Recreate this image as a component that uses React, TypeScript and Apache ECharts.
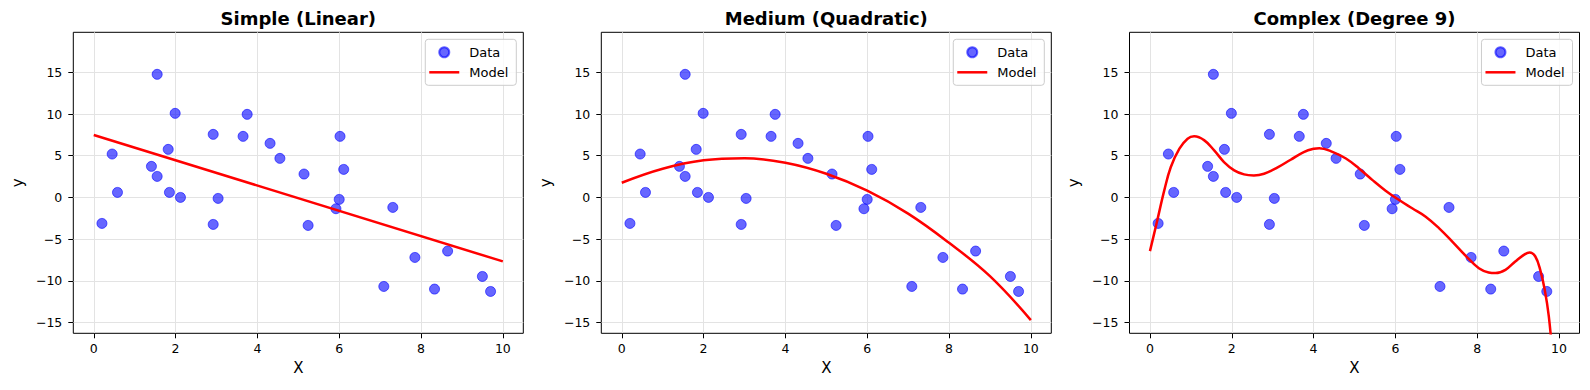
import React, { useEffect, useRef } from "react";
import * as echarts from "echarts";

const FONT = "DejaVu Sans";

const panelTitles = ["Simple (Linear)", "Medium (Quadratic)", "Complex (Degree 9)"];

// observed data points (same in every panel)
const dataX = [0.20, 0.45, 0.58, 1.41, 1.55, 1.55, 1.82, 1.85, 1.99, 2.12, 2.92, 2.92, 3.04, 3.65, 3.75, 4.31, 4.55, 5.14, 5.24, 5.92, 6.00, 6.02, 6.11, 7.09, 7.31, 7.85, 8.33, 8.65, 9.50, 9.70];
const dataY = [-3.12, 5.2, 0.6, 3.72, 14.76, 2.52, 5.76, 0.6, 10.08, 0.0, 7.56, -3.24, -0.12, 7.32, 9.96, 6.48, 4.68, 2.8, -3.36, -1.36, -0.24, 7.32, 3.36, -10.68, -1.2, -7.2, -11.0, -6.44, -9.48, -11.28];

// model curves
const linX = [0, 10];
const linY = [7.48, -7.68];

const quadX = [0, 1, 2, 3, 4, 5, 6, 7, 8, 9, 10];
const quadY = [1.76, 3.44, 4.45, 4.70, 4.15, 2.83, 0.80, -1.95, -5.45, -9.45, -14.72];

const polyX = [0, 0.16, 0.35, 0.51, 0.72, 0.92, 1.08, 1.33, 1.57, 1.81, 2.06, 2.30, 2.54, 2.79, 3.11, 3.44, 3.76, 4.01, 4.14, 4.46, 4.79, 5.11, 5.44, 5.76, 6.09, 6.41, 6.74, 7.07, 7.39, 7.72, 8.04, 8.28, 8.45, 8.69, 8.93, 9.14, 9.28, 9.42, 9.54, 9.65, 9.75, 9.85];
const polyY = [-6.44, -3.16, 0.84, 3.64, 5.84, 7.04, 7.32, 6.84, 5.64, 4.24, 3.24, 2.76, 2.64, 2.84, 3.56, 4.52, 5.44, 5.84, 5.9, 5.46, 4.66, 3.47, 2.07, 0.80, -0.32, -1.31, -2.31, -3.71, -5.30, -7.01, -8.49, -9.0, -9.08, -8.69, -7.69, -6.89, -6.61, -7.09, -8.69, -11.08, -14.26, -19.5];

const xTicks = [0, 2, 4, 6, 8, 10];
const yTicks = [-15, -10, -5, 0, 5, 10, 15];

const modelX = [linX, quadX, polyX];
const modelY = [linY, quadY, polyY];

const gridLefts = [73.3, 601.3, 1129.5];
const GRID_TOP = 32.3;
const GRID_W = 450;
const GRID_H = 301;

const fmt = (v: number) => String(v).replace("-", "\u2212");

function buildOption() {
  const grids = gridLefts.map((l) => ({
    left: l,
    top: GRID_TOP,
    width: GRID_W,
    height: GRID_H,
    show: true,
    borderColor: "#000",
    borderWidth: 1,
    backgroundColor: "transparent",
    containLabel: false,
  }));

  const xAxes = gridLefts.map((_, i) => ({
    gridIndex: i,
    type: "value",
    min: -0.5,
    max: 10.5,
    minInterval: 2,
    maxInterval: 2,
    name: "X",
    nameLocation: "middle",
    nameGap: 27,
    nameTextStyle: { fontFamily: FONT, fontSize: 15, color: "#000" },
    axisLine: { show: false, onZero: false },
    axisTick: { show: true, length: 5, customValues: xTicks, lineStyle: { color: "#000", width: 1 } },
    axisLabel: { customValues: xTicks, margin: 9, fontFamily: FONT, fontSize: 12.5, color: "#000", formatter: fmt },
    splitLine: { show: true, lineStyle: { color: "#e3e3e3", width: 1 } },
  }));

  const yAxes = gridLefts.map((_, i) => ({
    gridIndex: i,
    type: "value",
    min: -16.3,
    max: 19.8,
    minInterval: 5,
    maxInterval: 5,
    name: "y",
    nameLocation: "middle",
    nameGap: 48,
    nameTextStyle: { fontFamily: FONT, fontSize: 15, color: "#000" },
    axisLine: { show: false, onZero: false },
    axisTick: { show: true, length: 5, customValues: yTicks, lineStyle: { color: "#000", width: 1 } },
    axisLabel: { customValues: yTicks, margin: 11, fontFamily: FONT, fontSize: 12.5, color: "#000", formatter: fmt },
    splitLine: { show: true, lineStyle: { color: "#e3e3e3", width: 1 } },
  }));

  const series: any[] = [];
  gridLefts.forEach((_, i) => {
    series.push({
      type: "scatter",
      name: "Data",
      xAxisIndex: i,
      yAxisIndex: i,
      data: dataX.map((x, k) => [x, dataY[k]]),
      symbol: "circle",
      symbolSize: 10,
      itemStyle: { color: "rgba(0,0,255,0.6)", borderColor: "rgba(0,0,255,0.6)", borderWidth: 1, opacity: 1 },
      z: 2,
    });
    series.push({
      type: "line",
      name: "Model",
      xAxisIndex: i,
      yAxisIndex: i,
      data: modelX[i].map((x, k) => [x, modelY[i][k]]),
      symbol: "none",
      showSymbol: false,
      smooth: i === 0 ? false : 0.4,
      clip: true,
      lineStyle: { color: "#ff0000", width: 2.5 },
      itemStyle: { color: "#ff0000" },
      z: 3,
    });
  });

  const legends = gridLefts.map((l) => ({
    orient: "vertical",
    right: 1590 - (l + GRID_W - 7),
    top: 39.3,
    data: [
      { name: "Data", icon: "circle" },
      { name: "Model", icon: "path://M0,0H30V2.5H0Z" },
    ],
    symbolKeepAspect: true,
    itemWidth: 30,
    itemHeight: 10,
    itemGap: 6,
    padding: [6, 8, 6, 4],
    backgroundColor: "rgba(255,255,255,0.8)",
    borderColor: "#cccccc",
    borderWidth: 1,
    borderRadius: 3,
    textStyle: { fontFamily: FONT, fontSize: 13, color: "#000", lineHeight: 14, padding: [0, 0, 0, 5] },
  }));

  const titles = gridLefts.map((l, i) => ({
    type: "text",
    x: l + GRID_W / 2,
    y: 18,
    style: {
      text: panelTitles[i],
      font: `bold 18px "${FONT}"`,
      fontFamily: FONT,
      fontSize: 18,
      fontWeight: "bold",
      fill: "#000",
      align: "center",
      verticalAlign: "middle",
      textAlign: "center",
      textVerticalAlign: "middle",
    },
  }));

  return {
    animation: false,
    backgroundColor: "#ffffff",
    textStyle: { fontFamily: FONT },
    grid: grids,
    xAxis: xAxes,
    yAxis: yAxes,
    legend: legends,
    series,
    graphic: titles,
  };
}

export default function App() {
  const ref = useRef<HTMLDivElement>(null);
  useEffect(() => {
    if (!ref.current) return;
    const chart = echarts.init(ref.current, null, { renderer: "svg" });
    chart.setOption(buildOption() as any);
    return () => chart.dispose();
  }, []);
  return (
    <div
      ref={ref}
      style={{ position: "absolute", left: 0, top: 0, width: 1590, height: 390, background: "#fff" }}
    />
  );
}
